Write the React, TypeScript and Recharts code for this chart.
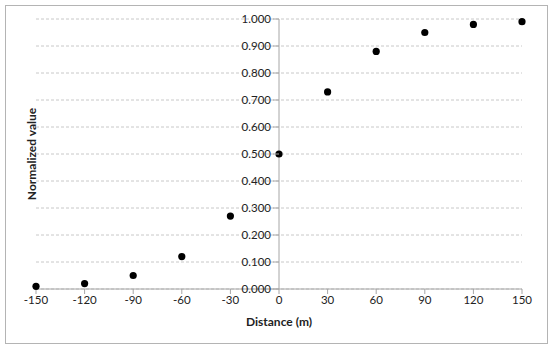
import { ScatterChart, Scatter, XAxis, YAxis, CartesianGrid, ReferenceLine } from 'recharts';

// distance from source (m)
const distances = [-150, -120, -90, -60, -30, 0, 30, 60, 90, 120, 150];
// normalized value at each distance
const normalizedValues = [0.01, 0.02, 0.05, 0.12, 0.27, 0.5, 0.73, 0.88, 0.95, 0.98, 0.99];

const xTicks = [-150, -120, -90, -60, -30, 0, 30, 60, 90, 120, 150];
const yTicks = [0, 0.1, 0.2, 0.3, 0.4, 0.5, 0.6, 0.7, 0.8, 0.9, 1];

const data = distances.map((d, i) => ({ x: d, y: normalizedValues[i] }));

const FONT = 'Lato, "Liberation Sans", sans-serif';
const AXIS_GRAY = '#a6a6a6';
const PLOT_LEFT = 36;
const PLOT_RIGHT = 522;
const CENTER_X = (PLOT_LEFT + PLOT_RIGHT) / 2;

// y ticks sit on the x=0 axis, not on the left edge
const YTick = (props: any) => {
    const { y, payload } = props;
    return (
        <g>
            <line x1={CENTER_X - 6} x2={CENTER_X} y1={y} y2={y} stroke={AXIS_GRAY} />
            <text x={CENTER_X - 8} y={y} dy={4} textAnchor="end" fontSize={11.5} fill="#222" fontFamily={FONT}>
                {Number(payload.value).toFixed(3)}
            </text>
        </g>
    );
};

const Dot = (props: any) => <circle cx={props.cx} cy={props.cy} r={3.6} fill="#000" />;

export default function App() {
    return (
        <div style={{ position: 'absolute', left: 0, top: 0, width: 550, height: 350, background: '#fff' }}>
            <div style={{ position: 'absolute', left: 5, top: 5, width: 541, height: 337, border: '1px solid #b4b4b4' }} />
            <div
                style={{
                    position: 'absolute',
                    left: 32 - 60,
                    top: 154 - 8,
                    width: 120,
                    height: 16,
                    lineHeight: '16px',
                    textAlign: 'center',
                    transform: 'rotate(-90deg)',
                    fontFamily: FONT,
                    fontSize: 12,
                    fontWeight: 'bold',
                    color: '#222',
                }}
            >
                Normalized value
            </div>
            <ScatterChart
                width={550}
                height={350}
                margin={{ top: 19, right: 550 - PLOT_RIGHT, bottom: 0, left: PLOT_LEFT - 1 }}
                style={{ position: 'absolute', left: 0, top: 0 }}
            >
                <CartesianGrid vertical={false} stroke="#c8c8c8" strokeDasharray="3 2" />
                <XAxis
                    type="number"
                    dataKey="x"
                    domain={[-150, 150]}
                    ticks={xTicks}
                    interval={0}
                    height={61}
                    stroke={AXIS_GRAY}
                    tickSize={5}
                    tick={{ fill: '#222', fontSize: 11.5, fontFamily: FONT }}
                    label={{
                        content: () => (
                            <text x={CENTER_X} y={326} textAnchor="middle" fontSize={12} fontWeight="bold" fontFamily={FONT} fill="#222">
                                Distance (m)
                            </text>
                        ),
                    }}
                />
                <YAxis
                    type="number"
                    dataKey="y"
                    domain={[0, 1]}
                    ticks={yTicks}
                    interval={0}
                    width={1}
                    axisLine={false}
                    tickLine={false}
                    tick={YTick}
                />
                <ReferenceLine x={0} stroke={AXIS_GRAY} />
                <Scatter data={data} fill="#000" shape={Dot} isAnimationActive={false} />
            </ScatterChart>
        </div>
    );
}
